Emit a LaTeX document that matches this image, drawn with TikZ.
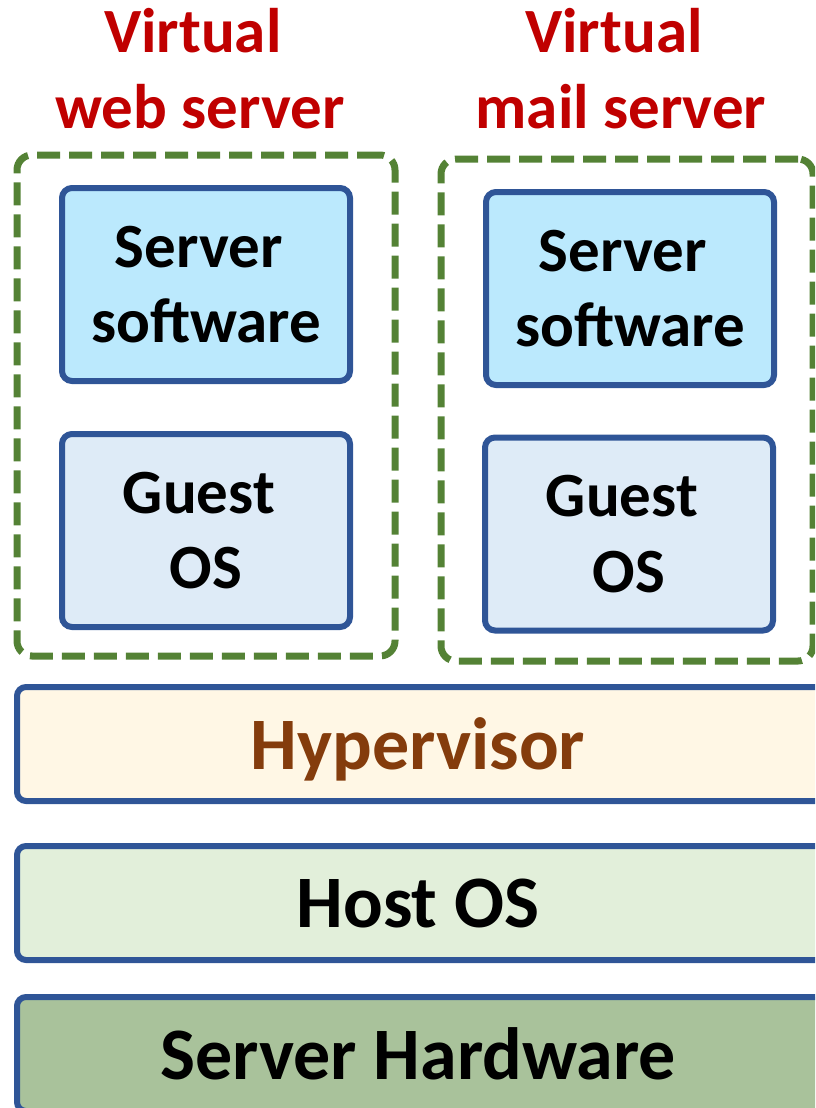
\documentclass[tikz,border=0pt]{standalone}
\usepackage{fontspec}
\setmainfont{Carlito}
\definecolor{vmgreen}{HTML}{548235}
\definecolor{boxblue}{HTML}{2F5597}
\definecolor{swfill}{HTML}{BBE9FD}
\definecolor{osfill}{HTML}{DEEBF7}
\definecolor{hypfill}{HTML}{FFF7E5}
\definecolor{hostfill}{HTML}{E2EFDA}
\definecolor{hwfill}{HTML}{A9C29B}
\definecolor{titlered}{HTML}{C00000}
\definecolor{hypbrown}{HTML}{843C0C}
\begin{document}
\begin{tikzpicture}[x=1pt,y=-1pt,
  vmbox/.style={draw=vmgreen, line width=7pt, dash pattern=on 23pt off 9pt,
    rounded corners=15pt, rectangle, inner sep=0pt},
  innerbox/.style={draw=boxblue, line width=6pt, rounded corners=10pt, rectangle,
    minimum width=288pt, minimum height=193pt, inner sep=0pt, align=center,
    text depth=0pt, font=\fontsize{63pt}{75.5pt}\selectfont\bfseries},
  layerbar/.style={draw=boxblue, line width=6pt, rounded corners=9pt, rectangle,
    minimum width=813pt, minimum height=114pt, inner sep=0pt,
    text depth=0pt, font=\fontsize{74pt}{88pt}\selectfont\bfseries},
  vmtitle/.style={text=titlered, align=center, inner sep=0pt, text depth=0pt,
    anchor=south, font=\fontsize{63pt}{76pt}\selectfont\bfseries}]
\useasboundingbox (0,0) rectangle (815,1108);
\clip (0,0) rectangle (815,1108);

% virtual machine containers
\node[vmbox, minimum width=378pt, minimum height=501pt] (webvm) at (206,405.5) {};
\node[vmbox, minimum width=372pt, minimum height=502pt] (mailvm) at (627,410) {};

% titles
\node[vmtitle] (webtitle) at (200,129) {\mbox{Virtual\ }\\web server};
\node[vmtitle] (mailtitle) at (621,129) {\mbox{Virtual\ }\\mail server};

% inner boxes
\node[innerbox, fill=swfill] (websw) at (206,284.5) {\mbox{Server\ }\\software};
\node[innerbox, fill=osfill] (webos) at (206,530.5) {\mbox{Guest\ }\\OS};
\node[innerbox, fill=swfill] (mailsw) at (630,288.5) {\mbox{Server\ }\\software};
\node[innerbox, fill=osfill] (mailos) at (629,534) {\mbox{Guest\ }\\OS};

% layers (bars run past the right edge; text centred near x=418)
\node[layerbar, fill=hypfill, text=hypbrown] (hyp) at (423.5,744) {Hypervisor\hspace*{11pt}};
\node[layerbar, fill=hostfill] (host) at (423.5,903) {Host OS\hspace*{11pt}};
\node[layerbar, fill=hwfill] (hw) at (423.5,1054) {Server Hardware\hspace*{11pt}};
\end{tikzpicture}
\end{document}
